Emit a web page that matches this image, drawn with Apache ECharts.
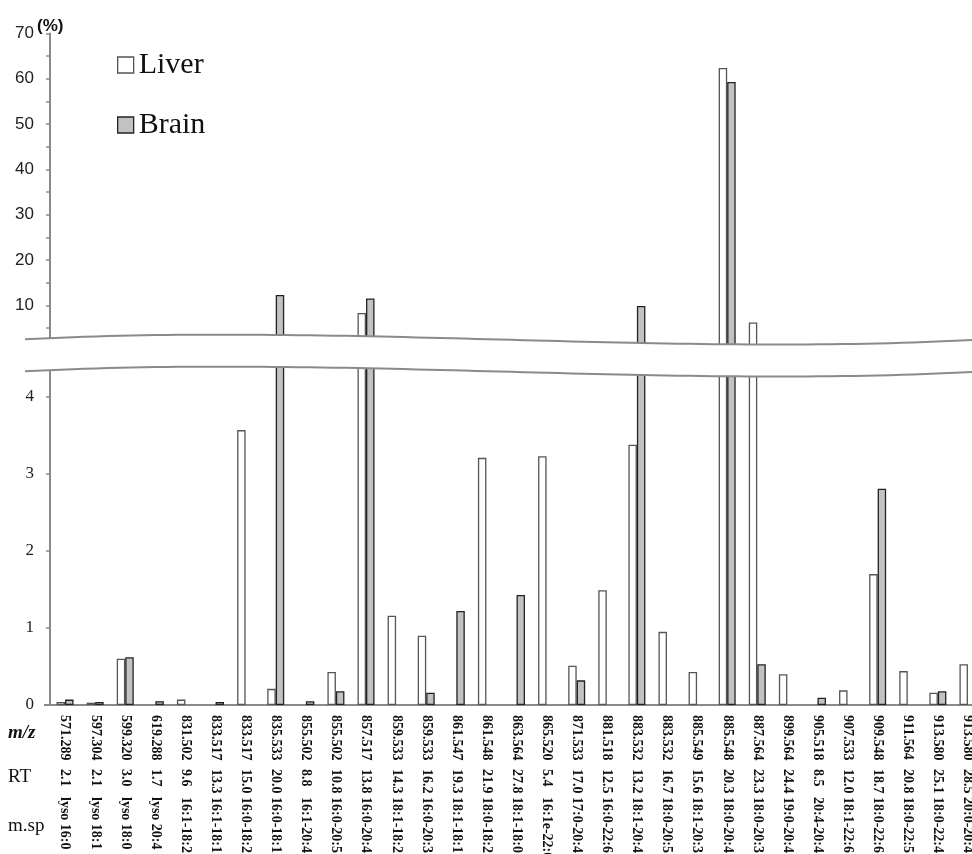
<!DOCTYPE html>
<html>
<head>
<meta charset="utf-8">
<script src="https://cdn.jsdelivr.net/npm/echarts@6/dist/echarts.min.js"></script>
<style>html,body{margin:0;padding:0;background:#fff}#c{width:972px;height:854px}</style>
</head>
<body>
<div id="c"></div>
<script>
const mz = ['571.289','597.304','599.320','619.288','831.502','833.517','833.517','835.533','855.502','855.502','857.517','859.533','859.533','861.547','861.548','863.564','865.520','871.533','881.518','883.532','883.532','885.549','885.548','887.564','899.564','905.518','907.533','909.548','911.564','913.580','913.580'];
const rt = ['2.1','2.1','3.0','1.7','9.6','13.3','15.0','20.0','8.8','10.8','13.8','14.3','16.2','19.3','21.9','27.8','5.4','17.0','12.5','13.2','16.7','15.6','20.3','23.3','24.4','8.5','12.0','18.7','20.8','25.1','28.5'];
const msp = ['lyso 16:0','lyso 18:1','lyso 18:0','lyso 20:4','16:1-18:2','16:1-18:1','16:0-18:2','16:0-18:1','16:1-20:4','16:0-20:5','16:0-20:4','18:1-18:2','16:0-20:3','18:1-18:1','18:0-18:2','18:1-18:0','16:1e-22:6','17:0-20:4','16:0-22:6','18:1-20:4','18:0-20:5','18:1-20:3','18:0-20:4','18:0-20:3','19:0-20:4','20:4-20:4','18:1-22:6','18:0-22:6','18:0-22:5','18:0-22:4','20:0-20:4'];
const liver = [0.04,0.03,0.60,0,0.07,0,3.57,0.21,0,0.43,8.3,1.16,0.90,0,3.21,0,3.23,0.51,1.49,3.38,0.95,0.43,62.4,6.2,0.40,0,0.19,1.70,0.44,0.16,0.53];
const brain = [0.07,0.04,0.62,0.05,0,0.04,0,12.3,0.05,0.18,11.5,0,0.16,1.22,0,1.43,0,0.32,0,9.85,0,0,59.3,0.53,0,0.095,0,2.81,0,0.18,0];
const upperTicks = [10,20,30,40,50,60,70];
const lowerTicks = [0,1,2,3,4];
const breakAt = 4.4;

const cats = mz.map((m,i)=>m+'|'+rt[i]+'|'+msp[i]);
const serif = 'Liberation Serif';
const sans = 'Liberation Sans';
const liverStyle = {color:'#ffffff', borderColor:'#555555', borderWidth:1.3};
const brainStyle = {color:'#c2c2c2', borderColor:'#222222', borderWidth:1.3};
const axisGray = '#8a8a8a';

// break band curves (decoration)
function bez(p0,p1,p2,p3,n){
  const pts=[];
  for(let i=0;i<=n;i++){const t=i/n,u=1-t;
    pts.push([u*u*u*p0[0]+3*u*u*t*p1[0]+3*u*t*t*p2[0]+t*t*t*p3[0],
              u*u*u*p0[1]+3*u*u*t*p1[1]+3*u*t*t*p2[1]+t*t*t*p3[1]]);}
  return pts;
}
const topCurve = bez([25,339.3],[340,323],[660,356],[972,340],80);
const botCurve = bez([25,371.3],[340,355],[660,388],[972,372],80);
const bandPoly = topCurve.concat(botCurve.slice().reverse());

const upper = v => (v > breakAt ? v : null);
const lower = v => (v > 0 ? v : null);

const chart = echarts.init(document.getElementById('c'), null, {renderer:'canvas'});
chart.setOption({
  backgroundColor:'#ffffff',
  animation:false,
  legend:{
    orient:'vertical', left:112, top:45, itemWidth:16, itemHeight:16, itemGap:30,
    textStyle:{fontFamily:serif, fontSize:30, color:'#111'},
    data:[{name:'Liver', icon:'rect', itemStyle:liverStyle},{name:'Brain', icon:'rect', itemStyle:brainStyle}]
  },
  grid:[
    {left:50, top:33.5, width:933, height:317.1, outerBoundsMode:'none', containLabel:false},
    {left:50, top:705-breakAt*77, width:933, height:breakAt*77, outerBoundsMode:'none', containLabel:false}
  ],
  xAxis:[
    {type:'category', gridIndex:0, data:cats, show:false},
    {type:'category', gridIndex:1, data:cats,
      axisLine:{lineStyle:{color:axisGray, width:2}}, axisTick:{show:false},
      axisLabel:{interval:0, rotate:-90, margin:10,
        formatter:function(v){const p=v.split('|');return '{m|'+p[0]+'}{r|'+p[1]+'}{s|'+p[2]+'}';},
        rich:{
          m:{width:54, fontFamily:serif, fontWeight:'bold', fontSize:14, color:'#111'},
          r:{width:28, fontFamily:serif, fontWeight:'bold', fontSize:14, color:'#111'},
          s:{fontFamily:serif, fontWeight:'bold', fontSize:14, color:'#111'}
        }
      }
    }
  ],
  yAxis:[
    {type:'value', gridIndex:0, min:0, max:70, interval:5,
      axisLine:{show:true, lineStyle:{color:axisGray, width:2}},
      axisTick:{show:true, length:4, lineStyle:{color:axisGray, width:1.5}},
      splitLine:{show:false},
      axisLabel:{margin:16, fontFamily:sans, fontSize:17, color:'#222',
        formatter:function(v){return upperTicks.indexOf(v)>=0 ? String(v) : '';}}
    },
    {type:'value', gridIndex:1, min:0, max:breakAt, interval:1,
      axisLine:{show:true, lineStyle:{color:axisGray, width:2}},
      axisTick:{show:true, length:4, lineStyle:{color:axisGray, width:1.5}},
      splitLine:{show:false},
      axisLabel:{margin:16, fontFamily:serif, fontSize:17, color:'#222', showMaxLabel:false,
        formatter:function(v){return lowerTicks.indexOf(v)>=0 ? String(v) : '';}}
    }
  ],
  series:[
    {name:'Liver', type:'bar', xAxisIndex:0, yAxisIndex:0, barWidth:8.5, barGap:'0%',
      data:liver.map(upper), itemStyle:liverStyle},
    {name:'Brain', type:'bar', xAxisIndex:0, yAxisIndex:0, barWidth:8.5, barGap:'0%',
      data:brain.map(upper), itemStyle:brainStyle},
    {name:'Liver', type:'bar', xAxisIndex:1, yAxisIndex:1, barWidth:8.5, barGap:'0%', clip:true,
      data:liver.map(lower), itemStyle:liverStyle},
    {name:'Brain', type:'bar', xAxisIndex:1, yAxisIndex:1, barWidth:8.5, barGap:'0%', clip:true,
      data:brain.map(lower), itemStyle:brainStyle}
  ],
  graphic:{elements:[
    {type:'polygon', z:100, silent:true, shape:{points:bandPoly}, style:{fill:'#ffffff', stroke:null}},
    {type:'polyline', z:101, silent:true, shape:{points:topCurve}, style:{stroke:'#8a8a8a', lineWidth:2, fill:null}},
    {type:'polyline', z:101, silent:true, shape:{points:botCurve}, style:{stroke:'#8a8a8a', lineWidth:2, fill:null}},
    {type:'line', z:99, silent:true, shape:{x1:44, y1:705, x2:50, y2:705}, style:{stroke:axisGray, lineWidth:2}},
    {type:'text', z:101, left:37, top:18, style:{text:'(%)', font:'bold 17px Liberation Sans', fill:'#111'}},
    {type:'text', z:101, left:8, top:724, style:{text:'m/z', font:'italic bold 19px Liberation Serif', fill:'#111'}},
    {type:'text', z:101, left:8, top:768, style:{text:'RT', font:'19px Liberation Serif', fill:'#111'}},
    {type:'text', z:101, left:8, top:817, style:{text:'m.sp', font:'19px Liberation Serif', fill:'#111'}}
  ]}
});
</script>
</body>
</html>
